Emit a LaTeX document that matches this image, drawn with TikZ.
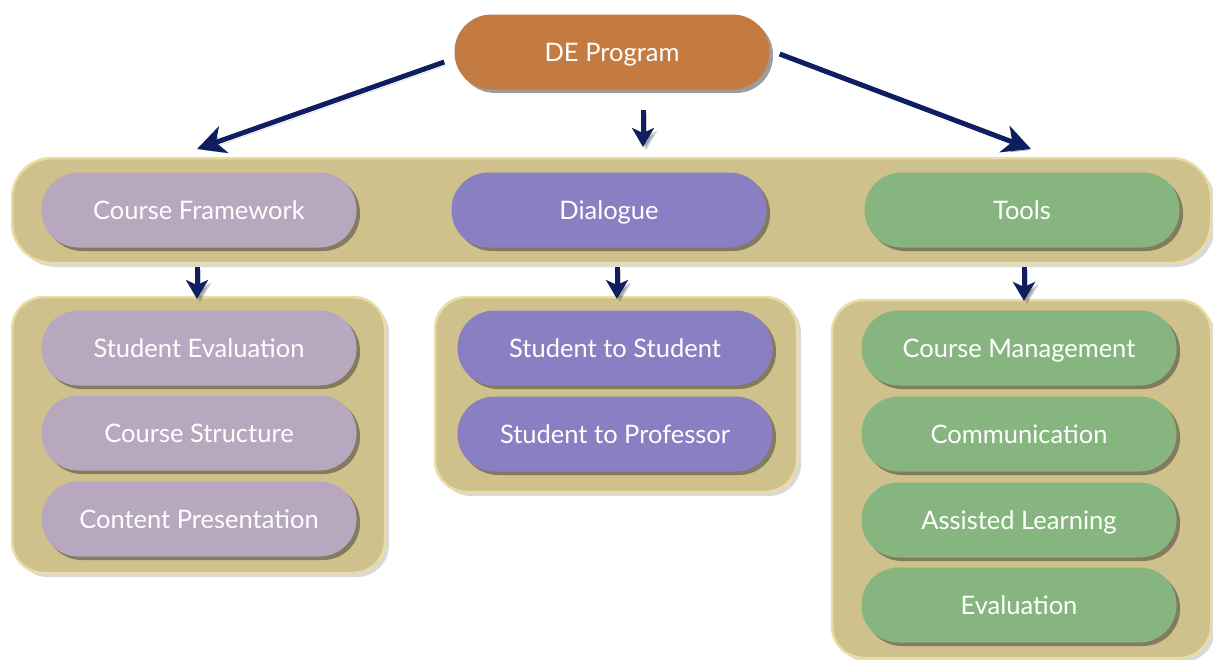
\documentclass[tikz,border=0pt]{standalone}
\usepackage{fontspec}
\setmainfont{Lato}
\usetikzlibrary{shadows,arrows.meta,calc}
\definecolor{deorange}{HTML}{C47B42}
\definecolor{cfpurple}{HTML}{B8A8BF}
\definecolor{dlpurple}{HTML}{8A7FC2}
\definecolor{tlgreen}{HTML}{86B57F}
\definecolor{bandtan}{HTML}{CFC18B}
\definecolor{bandedge}{HTML}{E9DCA6}
\definecolor{navy}{HTML}{0E1E5E}
\tikzset{
  pill/.style={rectangle, rounded corners=37pt, minimum width=315pt, minimum height=75pt,
    text=white, font=\fontsize{25.5}{28}\selectfont, inner sep=0pt, text height=22pt, text depth=4pt,
    drop shadow={shadow xshift=3.5pt, shadow yshift=-3.5pt, opacity=0.45, fill=black!85}},
  panel/.style={rectangle, rounded corners=32pt, fill=bandtan, draw=bandedge, line width=2.5pt,
    inner sep=0pt, drop shadow={shadow xshift=4pt, shadow yshift=-4pt, opacity=0.25, fill=black!60}},
  arr/.style={draw=navy, line width=5pt, -{Stealth[length=28pt,width=28pt,inset=8pt]},
    preaction={draw=black, opacity=0.2, transform canvas={shift={(3pt,-3pt)}}}},
  sarr/.style={draw=navy, line width=5pt, -{Stealth[length=19pt,width=22pt,inset=5pt]},
    preaction={draw=black, opacity=0.2, transform canvas={shift={(3pt,-3pt)}}}}
}
\begin{document}
\begin{tikzpicture}[x=1pt,y=-1pt]
\useasboundingbox (0,0) rectangle (1213,659);
\clip (0,0) rectangle (1213,659);
% panels
\node[panel, minimum width=1199pt, minimum height=105pt, rounded corners=40pt] (band) at (611.5,210.5) {};
\node[panel, minimum width=373pt, minimum height=276pt] (gleft) at (198.5,435) {};
\node[panel, minimum width=362pt, minimum height=195pt] (gmid) at (616,394.5) {};
\node[panel, minimum width=379pt, minimum height=358pt] (gright) at (1021.5,479) {};
% top
\node[pill, fill=deorange] (de) at (612,52) {DE Program};
% second level
\node[pill, fill=cfpurple] (cf) at (199,210) {Course Framework};
\node[pill, fill=dlpurple] (dl) at (609,210) {Dialogue};
\node[pill, fill=tlgreen] (tl) at (1022,210) {Tools};
% left group
\node[pill, fill=cfpurple] (se) at (199,348) {Student Evaluation};
\node[pill, fill=cfpurple] (cs) at (199,433) {Course Structure};
\node[pill, fill=cfpurple] (cp) at (199,519) {Content Presentation};
% middle group
\node[pill, fill=dlpurple] (ss) at (615,348) {Student to Student};
\node[pill, fill=dlpurple] (sp) at (615,434) {Student to Professor};
% right group
\node[pill, fill=tlgreen] (cm) at (1019,348) {Course Management};
\node[pill, fill=tlgreen] (co) at (1019,434) {Communication};
\node[pill, fill=tlgreen] (al) at (1019,520) {Assisted Learning};
\node[pill, fill=tlgreen] (ev) at (1019,605) {Evaluation};
% arrow coordinates
\coordinate (tA) at (197,149);
\coordinate (tB) at (1031,149);
\coordinate (sC) at (643,110);
\coordinate (tC) at (643,147);
\coordinate (s1) at (197,267);
\coordinate (t1) at (197,299);
\coordinate (s2) at (617,267);
\coordinate (t2) at (617,299);
\coordinate (s3) at (1024,267);
\coordinate (t3) at (1024,301);
% arrows
\draw[arr] ($(de.west)+(-10,10)$) -- (tA);
\draw[arr] ($(de.east)+(10,2)$) -- (tB);
\draw[sarr] (sC) -- (tC);
\draw[sarr] (s1) -- (t1);
\draw[sarr] (s2) -- (t2);
\draw[sarr] (s3) -- (t3);
\end{tikzpicture}
\end{document}
